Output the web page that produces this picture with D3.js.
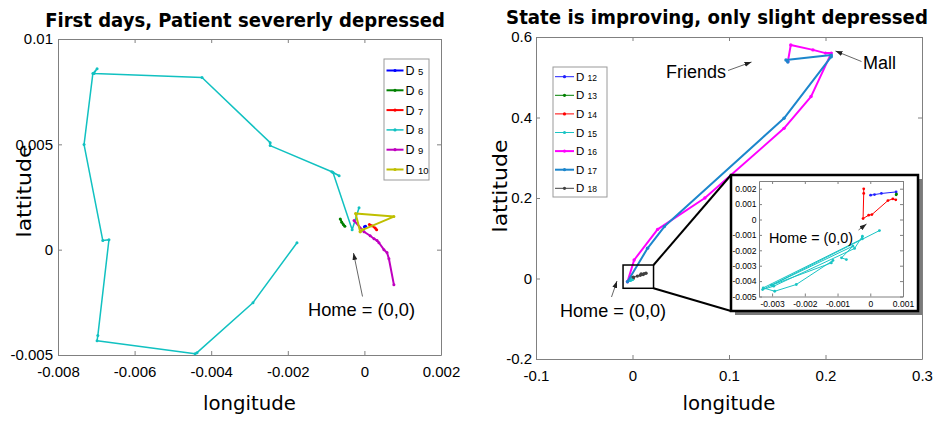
<!DOCTYPE html>
<html>
<head>
<meta charset="utf-8">
<script src="https://cdn.jsdelivr.net/npm/d3@7"></script>
<style>
  body { margin: 0; background: #fff; }
  svg { display: block; font-family: "Liberation Sans", Arial, sans-serif; }
  .axis path, .axis line { stroke: #808080; }
  .axis text { fill: #000; }
</style>
</head>
<body>
<svg id="chart" width="936" height="421"></svg>
<script>
"use strict";

// left panel, days 5..10 : [longitude, latitude]
const d5  = [[0.0000, 0.00109], [0.00003, 0.00111]];
const d6  = [[-0.00063, 0.00146], [-0.00059, 0.00130], [-0.00055, 0.00119], [-0.00051, 0.00111]];
const d7  = [[0.00013, 0.00119], [0.00019, 0.00114], [0.00028, 0.00103], [0.00032, 0.00094]];
const d8  = [[-0.00176, 0.00033], [-0.00291, -0.00252], [-0.00437, -0.00489], [-0.00442, -0.00494],
             [-0.00698, -0.00432], [-0.00696, -0.00408], [-0.00667, 0.00047], [-0.00683, 0.00043],
             [-0.00732, 0.00499], [-0.00709, 0.00836], [-0.00698, 0.00859], [-0.00706, 0.00836],
             [-0.00424, 0.00817], [-0.00246, 0.00508], [-0.00246, 0.00494], [-0.00085, 0.00370],
             [-0.00066, 0.00351], [-0.00082, 0.00366], [-0.00032, 0.00095], [-0.00014, 0.00199]];
const d9  = [[-0.00027, 0.00138], [-0.00001, 0.00085], [0.00015, 0.00066], [0.00025, 0.00052],
             [0.00033, 0.00043], [0.00038, 0.00033], [0.00051, 0.0], [0.00059, -0.00014],
             [0.00064, -0.00043], [0.00077, -0.00166]];
const d10 = [[-0.00011, 0.00085], [-0.00023, 0.00172], [0.00077, 0.00157], [-0.00005, 0.00094],
             [-0.00011, 0.00085]];

// right panel, days 12..18
const d12 = [[0.00001, 0.00158], [0.00013, 0.00162], [0.00034, 0.00169], [0.00079, 0.00179]];
const d13 = [[0.00080, 0.00165], [0.00079, 0.00160]];
const d14 = [[-0.00020, 0.00199], [-0.00020, 0.00169], [-0.00022, 0.00006], [-0.00005, 0.00028],
             [0.00005, 0.00032], [0.00054, 0.00123], [0.00069, 0.00134], [0.00078, 0.00128]];
const d15 = [[0.00028, -0.00072], [-0.00329, -0.00455], [-0.00295, -0.00433], [-0.00048, -0.00188],
             [-0.00024, -0.00108], [-0.00024, -0.00125], [-0.00327, -0.00444], [-0.00292, -0.00466],
             [-0.00226, -0.00422], [-0.00114, -0.00266], [-0.00119, -0.00282], [-0.00302, -0.00427],
             [-0.00053, -0.00173], [-0.00088, -0.00249], [-0.00073, -0.0026]];
const d16 = [[-0.0052, -0.008], [0.0017, 0.046], [0.026, 0.122], [0.075, 0.200], [0.157, 0.373],
             [0.185, 0.452], [0.206, 0.560], [0.200, 0.560], [0.187, 0.568], [0.164, 0.580], [0.161, 0.539]];
const d17 = [[-0.0052, -0.008], [0.0156, 0.075], [0.033, 0.129], [0.157, 0.398], [0.206, 0.551],
             [0.206, 0.555], [0.159, 0.543], [0.161, 0.538]];
const d18 = [[0.001, 0.003], [0.005, 0.006], [0.008, 0.008], [0.011, 0.010], [0.014, 0.013],
             [0.012, 0.012], [0.009, 0.011]];

const leftNames  = ["5", "6", "7", "8", "9", "10"];
const rightNames = ["12", "13", "14", "15", "16", "17", "18"];

const leftXTicks  = [-0.008, -0.006, -0.004, -0.002, 0, 0.002];
const leftYTicks  = [-0.005, 0, 0.005, 0.01];
const rightXTicks = [-0.1, 0, 0.1, 0.2, 0.3];
const rightYTicks = [-0.2, 0, 0.2, 0.4, 0.6];
const insetXTicks = [-0.003, -0.002, -0.001, 0, 0.001];
const insetYTicks = [-0.005, -0.004, -0.003, -0.002, -0.001, 0, 0.001, 0.002];

const zoomBoxX = [-0.0098, 0.0218];
const zoomBoxY = [-0.0243, 0.0335];

// styles
const leftSeries = [
  { data: d5,  color: "#0000ff", width: 2 },
  { data: d6,  color: "#008000", width: 2 },
  { data: d7,  color: "#ff0000", width: 2 },
  { data: d8,  color: "#11c1c1", width: 1.5 },
  { data: d9,  color: "#bf00bf", width: 2 },
  { data: d10, color: "#bfbf00", width: 2 }
];
const rightSeries = [
  { data: d12, color: "#2020ff", width: 1 },
  { data: d13, color: "#008000", width: 1 },
  { data: d14, color: "#ff0000", width: 1 },
  { data: d15, color: "#19c4c4", width: 1 },
  { data: d16, color: "#ff00ff", width: 2 },
  { data: d17, color: "#1c86cc", width: 2 },
  { data: d18, color: "#404040", width: 1 }
];

const svg = d3.select("#chart");
const fmt = d => d === 0 ? "0" : String(+d.toPrecision(3));

svg.append("defs").append("marker")
    .attr("id", "arrow")
    .attr("viewBox", "0 0 10 10")
    .attr("refX", 10).attr("refY", 5)
    .attr("markerUnits", "userSpaceOnUse")
    .attr("markerWidth", 7).attr("markerHeight", 7)
    .attr("orient", "auto")
  .append("path")
    .attr("d", "M0,1.5 L10,5 L0,8.5 z")
    .attr("fill", "#222");

// boxed axes with inward ticks, labels only on bottom / left
function boxAxes(g, x, y, xTicks, yTicks, o) {
  const [xa, xb] = x.range();
  const [ya, yb] = y.range();   // ya = bottom
  g.append("g").attr("class", "axis").attr("transform", `translate(0,${ya})`)
    .call(d3.axisBottom(x).tickValues(xTicks).tickFormat(fmt)
      .tickSizeInner(-o.tick).tickSizeOuter(0).tickPadding(o.xPad))
    .style("font-size", o.font + "px").style("font-family", "Liberation Sans, Arial, sans-serif");
  g.append("g").attr("class", "axis").attr("transform", `translate(0,${yb})`)
    .call(d3.axisTop(x).tickValues(xTicks).tickFormat("")
      .tickSizeInner(-o.tick).tickSizeOuter(0));
  g.append("g").attr("class", "axis").attr("transform", `translate(${xa},0)`)
    .call(d3.axisLeft(y).tickValues(yTicks).tickFormat(fmt)
      .tickSizeInner(-o.tick).tickSizeOuter(0).tickPadding(o.yPad))
    .style("font-size", o.font + "px").style("font-family", "Liberation Sans, Arial, sans-serif");
  g.append("g").attr("class", "axis").attr("transform", `translate(${xb},0)`)
    .call(d3.axisRight(y).tickValues(yTicks).tickFormat("")
      .tickSizeInner(-o.tick).tickSizeOuter(0));
}

function drawSeries(g, x, y, series, r) {
  const line = d3.line().x(d => x(d[0])).y(d => y(d[1]));
  series.forEach(s => {
    g.append("path").datum(s.data)
      .attr("d", line).attr("fill", "none")
      .attr("stroke", s.color).attr("stroke-width", s.width)
      .attr("stroke-linejoin", "round");
    g.selectAll(null).data(s.data).enter().append("circle")
      .attr("cx", d => x(d[0])).attr("cy", d => y(d[1]))
      .attr("r", r).attr("fill", s.color);
  });
}

function legend(g, names, series, o) {
  g.append("rect").attr("x", o.x).attr("y", o.y).attr("width", o.w).attr("height", o.h)
    .attr("fill", "#fff").attr("stroke", "#9a9a9a");
  names.forEach((n, i) => {
    const cy = o.y0 + i * o.step;
    g.append("line").attr("x1", o.lx0).attr("x2", o.lx1).attr("y1", cy).attr("y2", cy)
      .attr("stroke", series[i].color).attr("stroke-width", series[i].width);
    g.append("circle").attr("cx", (o.lx0 + o.lx1) / 2).attr("cy", cy).attr("r", 1.6)
      .attr("fill", series[i].color);
    const t = g.append("text").attr("x", o.lx1 + 2).attr("y", cy + o.big * 0.36);
    t.append("tspan").attr("font-size", o.big).text("D ");
    t.append("tspan").attr("font-size", o.small).text(n);
  });
}

// bold title, squeezed horizontally to the width it has in the picture
function title(str, cx, y, width) {
  const t = svg.append("text").attr("text-anchor", "middle")
    .attr("font-family", "DejaVu Sans, sans-serif").attr("font-weight", "bold")
    .attr("font-size", 20).text(str);
  const w = t.node().getComputedTextLength();
  t.attr("transform", `translate(${cx},${y}) scale(${width / w},1)`);
}

function axisLabels(cx, bottomY, labelX, cy) {
  svg.append("text").attr("x", cx).attr("y", bottomY).attr("text-anchor", "middle")
    .attr("font-family", "DejaVu Sans, sans-serif").attr("font-size", 20)
    .attr("textLength", 93).attr("lengthAdjust", "spacingAndGlyphs").text("longitude");
  svg.append("text").attr("transform", `translate(${labelX},${cy}) rotate(-90)`)
    .attr("text-anchor", "middle")
    .attr("font-family", "DejaVu Sans, sans-serif").attr("font-size", 20)
    .attr("textLength", 93).attr("lengthAdjust", "spacingAndGlyphs").text("lattitude");
}

function note(str, x, y, size, width) {
  svg.append("text").attr("x", x).attr("y", y).attr("font-size", size)
    .attr("textLength", width).attr("lengthAdjust", "spacingAndGlyphs").text(str);
}

function arrow(x1, y1, x2, y2) {
  svg.append("line").attr("x1", x1).attr("y1", y1).attr("x2", x2).attr("y2", y2)
    .attr("stroke", "#555").attr("stroke-width", 0.9).attr("marker-end", "url(#arrow)");
}

// ---------- left panel ----------
const xL = d3.scaleLinear().domain([-0.008, 0.002]).range([58, 441]);
const yL = d3.scaleLinear().domain([-0.005, 0.01]).range([355, 39]);
const gL = svg.append("g");
boxAxes(gL, xL, yL, leftXTicks, leftYTicks, { tick: 4, xPad: 11, yPad: 5, font: 15 });
drawSeries(gL, xL, yL, leftSeries, 1.5);
legend(gL, leftNames, leftSeries, { x: 384, y: 59, w: 45, h: 121, y0: 70.5, step: 19.8,
  lx0: 386.5, lx1: 403.5, big: 12.5, small: 9.5 });
title("First days, Patient severerly depressed", 245, 27, 400);
axisLabels(249.5, 410, 31, 191);
note("Home = (0,0)", 308, 316, 18.5, 107);
arrow(362.5, 296.5, 353.5, 253);

// ---------- right panel ----------
const xR = d3.scaleLinear().domain([-0.1, 0.3]).range([536, 922]);
const yR = d3.scaleLinear().domain([-0.2, 0.6]).range([359, 37]);
const gR = svg.append("g");
boxAxes(gR, xR, yR, rightXTicks, rightYTicks, { tick: 4, xPad: 11, yPad: 4, font: 15 });
drawSeries(gR, xR, yR, rightSeries, 1.7);
legend(gR, rightNames, rightSeries, { x: 553, y: 67, w: 54, h: 130, y0: 76.7, step: 18.6,
  lx0: 555, lx1: 574, big: 11.5, small: 8.5 });
title("State is improving, only slight depressed", 717, 24, 422);
axisLabels(729, 410, 507, 186);

note("Friends", 666, 78, 18, 60);
arrow(728, 70.5, 751.5, 62);
note("Mall", 863, 69, 18, 33);
arrow(861.5, 61.5, 835.5, 51);
note("Home = (0,0)", 560, 316.5, 18, 106);
arrow(611.5, 297, 617, 281);

// zoom box and connectors to the inset
const bx0 = xR(zoomBoxX[0]), bx1 = xR(zoomBoxX[1]);
const by0 = yR(zoomBoxY[1]), by1 = yR(zoomBoxY[0]);
gR.append("rect").attr("x", bx0).attr("y", by0).attr("width", bx1 - bx0).attr("height", by1 - by0)
  .attr("fill", "none").attr("stroke", "#000").attr("stroke-width", 1.5);

const frame = { x: 731, y: 175, w: 187, h: 136 };
gR.append("line").attr("x1", bx1).attr("y1", by0).attr("x2", frame.x).attr("y2", frame.y)
  .attr("stroke", "#000").attr("stroke-width", 2);
gR.append("line").attr("x1", bx1).attr("y1", by1).attr("x2", frame.x).attr("y2", frame.y + frame.h)
  .attr("stroke", "#000").attr("stroke-width", 2);

// ---------- inset ----------
const gI = svg.append("g");
gI.append("rect").attr("x", frame.x + 4).attr("y", frame.y + 4).attr("width", frame.w).attr("height", frame.h)
  .attr("fill", "#7a7a7a");
gI.append("rect").attr("x", frame.x).attr("y", frame.y).attr("width", frame.w).attr("height", frame.h)
  .attr("fill", "#fff").attr("stroke", "#000").attr("stroke-width", 2.5);

const xI = d3.scaleLinear().domain([-0.0034, 0.001]).range([759, 903]);
const yI = d3.scaleLinear().domain([-0.005, 0.0025]).range([296.5, 181]);
gI.append("clipPath").attr("id", "insetClip").append("rect")
  .attr("x", 759).attr("y", 181).attr("width", 144).attr("height", 115.5);
boxAxes(gI, xI, yI, insetXTicks, insetYTicks, { tick: 3, xPad: 4, yPad: 2.5, font: 8.5 });
drawSeries(gI.append("g").attr("clip-path", "url(#insetClip)"), xI, yI, rightSeries.slice(0, 4), 1.4);
note("Home = (0,0)", 769, 242.5, 14.5, 84);
arrow(858.5, 230, 866.5, 224);
</script>
</body>
</html>
